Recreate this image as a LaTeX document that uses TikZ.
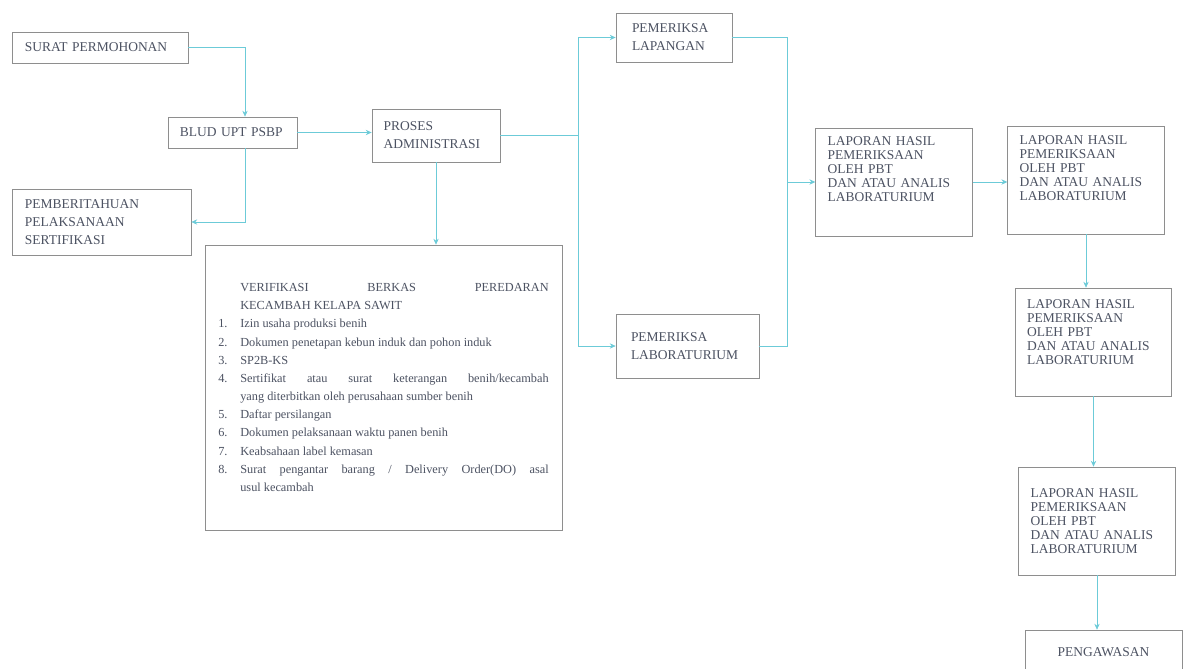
\documentclass[tikz,border=0pt]{standalone}
\usepackage{fontspec}
\setmainfont{Liberation Serif}
\usetikzlibrary{arrows.meta}

\definecolor{garis}{HTML}{6CCBD8}
\definecolor{bingkai}{HTML}{8E8E8E}
\definecolor{huruf}{HTML}{4C5262}

% one numbered line in the checklist box
\newcommand{\butir}[2]{\par\hangindent=0.66cm\hangafter=1\noindent\makebox[0.66cm][l]{#1}#2\par}

\begin{document}
\begin{tikzpicture}[x=0.03cm,y=-0.03cm,>={Stealth[length=5pt,width=4.5pt]},
		box node/.style={rectangle,draw=bingkai,line width=0.6pt,text=huruf,align=left,
			inner xsep=0.39cm,inner ysep=0pt,font=\fontsize{11.5}{15.5}\selectfont},
		report node/.style={box node,inner xsep=0.36cm,font=\fontsize{11.5}{12}\selectfont,
			minimum width=4.7cm,minimum height=3.24cm,text width=3.98cm},
		flow/.style={draw=garis,line width=0.6pt}]
		
		\useasboundingbox[fill=white] (0,0) rectangle (1193,669);
		
		\node[box node,minimum width=5.28cm,minimum height=0.93cm,text width=4.5cm] (surat) at (100,47.5) {SURAT PERMOHONAN};
		\node[box node,inner xsep=0.36cm,minimum width=3.87cm,minimum height=0.93cm,text width=3.15cm] (blud) at (232.5,132.5) {BLUD UPT PSBP};
		\node[box node,minimum width=5.37cm,minimum height=1.98cm,text width=4.59cm] (pemb) at (101.5,222) {PEMBERITAHUAN\\PELAKSANAAN\\SERTIFIKASI};
		\node[box node,inner xsep=0.35cm,minimum width=3.84cm,minimum height=1.59cm,text width=3.14cm] (proses) at (436,135.5) {PROSES\\ADMINISTRASI};
		\node[box node,inner xsep=0.4cm,minimum width=10.71cm,minimum height=8.55cm,text width=9.91cm,align=justify,
			font=\fontsize{10.5}{15.5}\selectfont] (verif) at (383.5,387.5) {%
			{\leftskip=0.66cm VERIFIKASI BERKAS PEREDARAN\linebreak KECAMBAH KELAPA SAWIT\par}
			\butir{1.}{Izin usaha produksi benih}
			\butir{2.}{Dokumen penetapan kebun induk dan pohon induk}
			\butir{3.}{SP2B-KS}
			\butir{4.}{Sertifikat atau surat keterangan benih/kecambah\linebreak yang diterbitkan oleh perusahaan sumber benih}
			\butir{5.}{Daftar persilangan}
			\butir{6.}{Dokumen pelaksanaan waktu panen benih}
			\butir{7.}{Keabsahaan label kemasan}
			\butir{8.}{Surat pengantar barang / Delivery Order(DO) asal\linebreak usul kecambah}};
		\node[box node,inner xsep=0.48cm,minimum width=3.48cm,minimum height=1.47cm,text width=2.52cm] (lapangan) at (674,37.5) {PEMERIKSA\\LAPANGAN};
		\node[box node,inner xsep=0.45cm,minimum width=4.29cm,minimum height=1.92cm,text width=3.39cm] (lab) at (687.5,346) {PEMERIKSA\\LABORATURIUM};
		\node[report node,text depth=2.45cm] (lap1) at (894,182) {LAPORAN HASIL\\PEMERIKSAAN\\OLEH PBT\\DAN ATAU ANALIS\\LABORATURIUM};
		\node[report node,text depth=2.4cm] (lap2) at (1086,180) {LAPORAN HASIL\\PEMERIKSAAN\\OLEH PBT\\DAN ATAU ANALIS\\LABORATURIUM};
		\node[report node,text depth=2.29cm] (lap3) at (1093.5,342) {LAPORAN HASIL\\PEMERIKSAAN\\OLEH PBT\\DAN ATAU ANALIS\\LABORATURIUM};
		\node[report node] (lap4) at (1097,521) {LAPORAN HASIL\\PEMERIKSAAN\\OLEH PBT\\DAN ATAU ANALIS\\LABORATURIUM};
		\node[box node,minimum width=4.71cm,minimum height=1.32cm,text width=3.93cm,align=center] (peng) at (1103.5,652) {PENGAWASAN};
		
		\coordinate (bagi) at (578,135.5);
		\coordinate (gabung) at (787,182);
		
		\draw[flow,->] (surat.east) -| ([xshift=0.375cm]blud.north);
		\draw[flow,->] ([xshift=0.375cm]blud.south) |- (pemb.east);
		\draw[flow] (proses.east) -- (bagi);
		\draw[flow,->] (bagi) |- (lapangan.west);
		\draw[flow,->] (bagi) |- (lab.west);
		\draw[flow] (lapangan.east) -| (gabung);
		\draw[flow] (lab.east) -| (gabung);
		\draw[flow,->] (gabung) -- (lap1.west);
		\path
		(blud.east) edge[flow,->] (blud.east -| proses.west)
		(proses.south) edge[flow,->] (proses.south |- verif.north)
		(lap1.east) edge[flow,->] (lap1.east -| lap2.west)
		(lap2.south) edge[flow,->] (lap2.south |- lap3.north)
		(lap3.south) edge[flow,->] (lap3.south |- lap4.north)
		(lap4.south) edge[flow,->] (lap4.south |- peng.north);
		
\end{tikzpicture}
\end{document}
